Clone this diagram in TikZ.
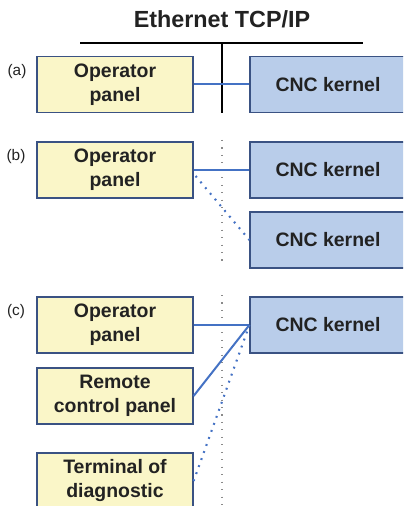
\documentclass[tikz,border=0pt]{standalone}
\usepackage{fontspec}
\setmainfont{Liberation Sans}
\usetikzlibrary{calc}
\definecolor{panelfill}{HTML}{FAF6C8}
\definecolor{kernelfill}{HTML}{B9CDEA}
\definecolor{boxedge}{HTML}{3A5283}
\definecolor{linkblue}{HTML}{4472C4}
\definecolor{busgray}{HTML}{8A8A8A}
\definecolor{inktext}{HTML}{222222}
\tikzset{
  px/.style={x=0.75pt,y=-0.75pt},
  unit/.style={draw=boxedge,line width=0.9pt,minimum width=117pt,minimum height=42pt,
    inner sep=0pt,align=center,text=inktext,font=\fontsize{14.6pt}{18pt}\selectfont\bfseries},
  panel/.style={unit,fill=panelfill},
  kernel/.style={unit,fill=kernelfill},
  link/.style={draw=linkblue,line width=1.5pt},
  dotlink/.style={draw=linkblue,line width=1.6pt,dash pattern=on 1.4pt off 4.2pt},
  bus/.style={draw=black,line width=1.1pt},
  busdot/.style={draw=busgray,line width=0.8pt,dash pattern=on 0.8pt off 4.8pt},
  caselabel/.style={font=\fontsize{11.5pt}{13pt}\selectfont,text=inktext,inner sep=0pt}
}
\begin{document}
\begin{tikzpicture}[px]
\useasboundingbox (0,0) rectangle (403,506);
\clip (0,0) rectangle (403,506);

% title and network bus
\node[font=\fontsize{17.5pt}{20pt}\selectfont\bfseries,text=inktext,inner sep=0pt] (title) at (222,19) {Ethernet TCP/IP};
\coordinate (busL) at (80,43);
\coordinate (busR) at (363,43);
\coordinate (busM) at (222,43);
\coordinate (busEnd) at (222,113);
\draw[bus] (busL) -- (busR);
\draw[bus] (busM) -- (busEnd);

% (a) single panel, single kernel
\node[caselabel] (la) at (17,72) {(a)};
\node[panel] (opa) at (115,84.5) {Operator\\panel};
\node[kernel] (cnca) at (328,84.5) {CNC kernel};
\draw[link] (opa.east) -- (cnca.west);

% (b) one panel, two kernels
\node[caselabel] (lb) at (16,157) {(b)};
\coordinate (vbTop) at (222,140);
\coordinate (vbBot) at (222,264);
\draw[busdot] (vbTop) -- (vbBot);
\node[panel] (opb) at (115,170) {Operator\\panel};
\node[kernel] (cncb1) at (328,170) {CNC kernel};
\node[kernel] (cncb2) at (328,240) {CNC kernel};
\draw[link] (opb.east) -- (cncb1.west);
\draw[dotlink] ($(opb.east)+(2,6)$) -- (cncb2.west);

% (c) several panels, one kernel
\node[caselabel] (lc) at (16,312) {(c)};
\coordinate (vcTop) at (222,295);
\coordinate (vcBot) at (222,506);
\draw[busdot] (vcTop) -- (vcBot);
\node[panel] (opc) at (115,325) {Operator\\panel};
\node[panel] (rcp) at (115,396) {Remote\\control panel};
\node[panel] (term) at (115,481) {Terminal of\\diagnostic};
\node[kernel] (cncc) at (328,325) {CNC kernel};
\draw[link] (opc.east) -- (cncc.west);
\draw[link] (rcp.east) -- (cncc.west);
\draw[dotlink] (term.east) -- (cncc.west);
\end{tikzpicture}
\end{document}
